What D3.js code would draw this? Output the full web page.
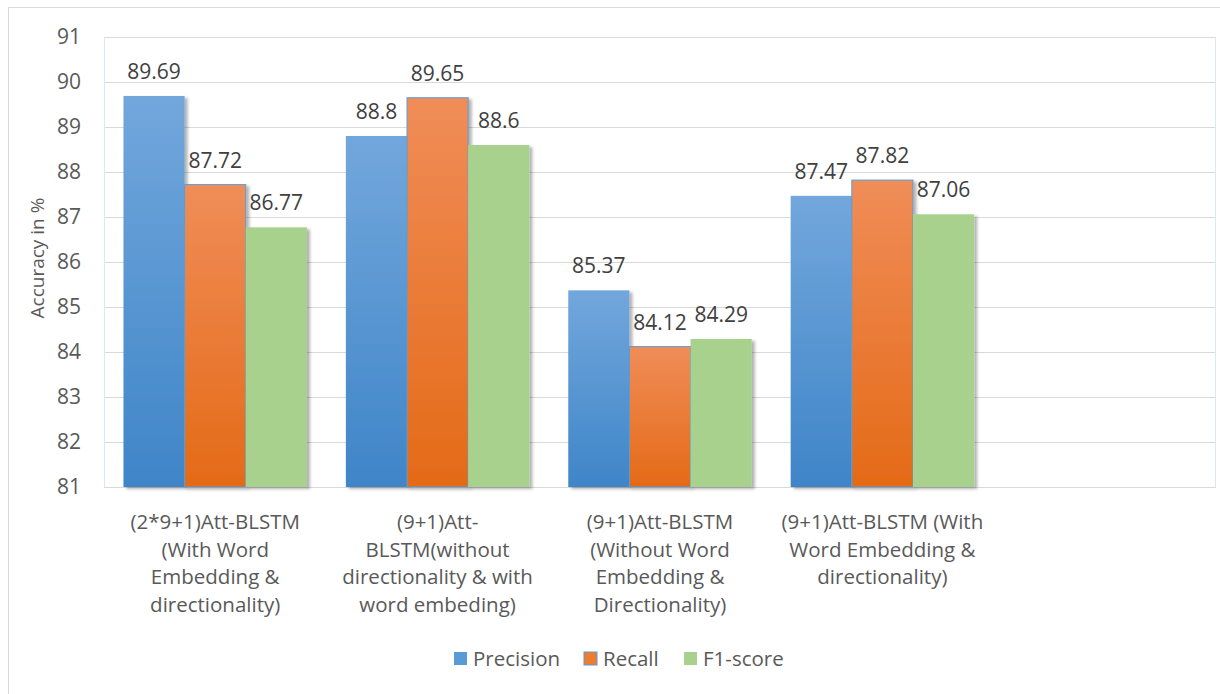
<!DOCTYPE html>
<html>
<head>
<meta charset="utf-8">
<script src="https://cdn.jsdelivr.net/npm/d3@7"></script>
<style>
  body { margin: 0; background: #fff; }
  svg { display: block; font-family: "Open Sans", "Noto Sans", sans-serif; }
</style>
</head>
<body>
<svg id="chart" width="1220" height="694"></svg>
<script>
// chart data
const categories = [
  ["(2*9+1)Att-BLSTM", "(With Word", "Embedding &", "directionality)"],
  ["(9+1)Att-", "BLSTM(without", "directionality & with", "word embeding)"],
  ["(9+1)Att-BLSTM", "(Without Word", "Embedding &", "Directionality)"],
  ["(9+1)Att-BLSTM (With", "Word Embedding &", "directionality)"],
  []
];
const seriesNames = ["Precision", "Recall", "F1-score"];
const precision = [89.69, 88.8, 85.37, 87.47, null];
const recall = [87.72, 89.65, 84.12, 87.82, null];
const f1score = [86.77, 88.6, 84.29, 87.06, null];
const yTicks = [81, 82, 83, 84, 85, 86, 87, 88, 89, 90, 91];

const seriesValues = [precision, recall, f1score];

const margin = { top: 37, right: 4, bottom: 207, left: 104 };
const width = 1220;
const height = 694;

const svg = d3.select("#chart");
const defs = svg.append("defs");

// gradients like the office style
function grad(id, top, bottom) {
  let g = defs.append("linearGradient").attr("id", id)
    .attr("x1", 0).attr("y1", 0).attr("x2", 0).attr("y2", 1);
  g.append("stop").attr("offset", "0%").attr("stop-color", top);
  g.append("stop").attr("offset", "100%").attr("stop-color", bottom);
}
grad("gBlue", "#72a7dc", "#3f85c8");
grad("gOrange", "#f08d58", "#e46a17");
grad("gGreen", "#a9d18e", "#a9d18e");
const fills = ["url(#gBlue)", "url(#gOrange)", "url(#gGreen)"];
const legendFills = ["#5b9bd5", "#ed7d31", "#a9d18e"];

let sh = defs.append("filter").attr("id", "shadow")
  .attr("x", "-20%").attr("y", "-20%").attr("width", "140%").attr("height", "140%");
sh.append("feDropShadow").attr("dx", 3).attr("dy", 2).attr("stdDeviation", 1.8)
  .attr("flood-color", "#000").attr("flood-opacity", 0.3);

// outer chart border
svg.append("rect")
  .attr("x", 8.5).attr("y", 7.5)
  .attr("width", 1240).attr("height", 720)
  .attr("fill", "none").attr("stroke", "#d9d9d9");

const x0 = d3.scaleBand()
  .domain(d3.range(categories.length))
  .range([margin.left, width - margin.right])
  .paddingInner(0.175).paddingOuter(0.0875);

const x1 = d3.scaleBand()
  .domain(d3.range(seriesNames.length))
  .range([0, x0.bandwidth()]);

const y = d3.scaleLinear()
  .domain([81, 91])
  .range([height - margin.bottom, margin.top]);

// gridlines
svg.append("g")
  .selectAll("line")
  .data(yTicks)
  .enter().append("line")
  .attr("x1", margin.left).attr("x2", width - margin.right)
  .attr("y1", d => Math.round(y(d)) + 0.5)
  .attr("y2", d => Math.round(y(d)) + 0.5)
  .attr("stroke", "#d9d9d9").attr("stroke-width", 1);

// plot area edges
svg.append("line")
  .attr("x1", margin.left + 0.5).attr("x2", margin.left + 0.5)
  .attr("y1", y(91)).attr("y2", y(81))
  .attr("stroke", "#dde8f4");
svg.append("line")
  .attr("x1", width - margin.right - 0.5).attr("x2", width - margin.right - 0.5)
  .attr("y1", y(91)).attr("y2", y(81))
  .attr("stroke", "#dde8f4");

// y tick labels
svg.append("g")
  .selectAll("text")
  .data(yTicks)
  .enter().append("text")
  .attr("x", 81)
  .attr("y", d => y(d))
  .attr("dy", "0.35em")
  .attr("text-anchor", "end")
  .attr("font-size", 21)
  .attr("fill", "#595959")
  .text(d => d);

// axis title
svg.append("text")
  .attr("transform", "translate(44," + ((y(81) + y(91)) / 2 - 4) + ") rotate(-90)")
  .attr("text-anchor", "middle")
  .attr("font-size", 19)
  .attr("fill", "#595959")
  .text("Accuracy in %");

// bars
const groups = svg.append("g")
  .selectAll("g")
  .data(categories.map((c, i) => i))
  .enter().append("g")
  .attr("transform", i => "translate(" + x0(i) + ",0)");

groups.selectAll("rect")
  .data(i => seriesValues.map((s, k) => ({ k: k, v: s[i] })).filter(d => d.v != null))
  .enter().append("rect")
  .attr("x", d => x1(d.k))
  .attr("y", d => y(d.v))
  .attr("width", x1.bandwidth())
  .attr("height", d => y(81) - y(d.v))
  .attr("fill", d => fills[d.k])
  .attr("stroke", d => d.k === 1 ? "#5b9bd5" : "none")
  .attr("stroke-width", 1)
  .attr("filter", "url(#shadow)");

groups.selectAll("text")
  .data(i => seriesValues.map((s, k) => ({ k: k, v: s[i] })).filter(d => d.v != null))
  .enter().append("text")
  .attr("x", d => x1(d.k) + x1.bandwidth() / 2)
  .attr("y", d => y(d.v) - 17)
  .attr("text-anchor", "middle")
  .attr("font-size", 21)
  .attr("fill", "#404040")
  .text(d => d.v);

// category labels
const catLabels = svg.append("g")
  .selectAll("text")
  .data(categories)
  .enter().append("text")
  .attr("text-anchor", "middle")
  .attr("font-size", 20.5)
  .attr("fill", "#595959")
  .attr("transform", (d, i) => "translate(" + (x0(i) + x0.bandwidth() / 2) + ",529)");
catLabels.selectAll("tspan")
  .data(d => d)
  .enter().append("tspan")
  .attr("x", 0)
  .attr("y", (d, j) => j * 27.5)
  .text(d => d);

// legend
const legendX = [454, 584, 684];
const legend = svg.append("g")
  .selectAll("g")
  .data(seriesNames)
  .enter().append("g")
  .attr("transform", (d, i) => "translate(" + legendX[i] + ",652)");
legend.append("rect")
  .attr("width", 13).attr("height", 13)
  .attr("fill", (d, i) => legendFills[i])
  .attr("stroke", (d, i) => i === 1 ? "#5b9bd5" : "none");
legend.append("text")
  .attr("x", 19).attr("y", 6.5).attr("dy", "0.35em")
  .attr("font-size", 20.5)
  .attr("fill", "#595959")
  .text(d => d);
</script>
</body>
</html>
